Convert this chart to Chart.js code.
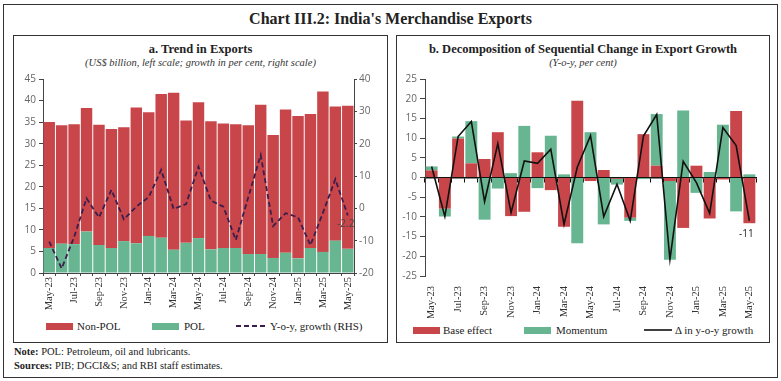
<!DOCTYPE html>
<html><head><meta charset="utf-8">
<script src="https://cdn.jsdelivr.net/npm/chart.js@4"></script>
<style>
body{margin:0;background:#fff;}
#wrap{position:relative;width:781px;height:381px;overflow:hidden;background:#fff;font-family:'Liberation Serif',serif;color:#222;}
.abs{position:absolute;}
.frame{left:3px;top:4px;width:773px;height:372px;border:1.5px solid #333;}
.panel{top:35px;height:306px;border:1px solid #333;}
.title{left:0;width:781px;top:9px;text-align:center;font-weight:bold;font-size:16px;line-height:20px;}
.ptitle{text-align:center;font-weight:bold;font-size:12.5px;line-height:14px;}
.psub{text-align:center;font-style:italic;font-size:10.5px;line-height:12px;color:#333;}
.lg{font-size:11px;line-height:12px;white-space:nowrap;color:#222;}
.box{height:7px;width:27px;}
.note{left:14px;font-size:10.5px;line-height:12px;color:#222;}
canvas{position:absolute;}
</style>
</head><body>
<div id="wrap">
<div class="abs frame"></div>
<div class="abs title">Chart III.2: India's Merchandise Exports</div>
<div class="abs panel" style="left:13px;width:373px;"></div>
<div class="abs panel" style="left:396px;width:372px;"></div>
<div class="abs ptitle" style="left:13px;width:375px;top:42px;">a. Trend in Exports</div>
<div class="abs psub" style="left:13px;width:375px;top:57px;">(US$ billion, left scale; growth in per cent, right scale)</div>
<div class="abs ptitle" style="left:396px;width:374px;top:42px;">b. Decomposition of Sequential Change in Export Growth</div>
<div class="abs psub" style="left:396px;width:374px;top:57px;">(Y-o-y, per cent)</div>

<canvas id="ca" width="372" height="248" style="left:14px;top:70px;"></canvas>
<canvas id="cb" width="371" height="248" style="left:397px;top:70px;"></canvas>

<div class="abs box" style="left:46px;top:323px;background:#C8464A;"></div>
<div class="abs lg" style="left:77px;top:320px;">Non-POL</div>
<div class="abs box" style="left:152px;top:323px;background:#67B591;"></div>
<div class="abs lg" style="left:184px;top:320px;">POL</div>
<svg class="abs" style="left:236px;top:322px;" width="32" height="8"><line x1="0" y1="4" x2="32" y2="4" stroke="#3b1d4d" stroke-width="2" stroke-dasharray="5,3"/></svg>
<div class="abs lg" style="left:270px;top:320px;">Y-o-y, growth (RHS)</div>

<div class="abs box" style="left:413px;top:327px;background:#C8464A;"></div>
<div class="abs lg" style="left:443px;top:324px;">Base effect</div>
<div class="abs box" style="left:524px;top:327px;background:#67B591;"></div>
<div class="abs lg" style="left:556px;top:324px;">Momentum</div>
<svg class="abs" style="left:644px;top:326px;" width="28" height="8"><line x1="0" y1="4" x2="28" y2="4" stroke="#111" stroke-width="1.6"/></svg>
<div class="abs lg" style="left:675px;top:324px;">Δ in y-o-y growth</div>

<div class="abs note" style="top:346px;"><b>Note:</b> POL: Petroleum, oil and lubricants.</div>
<div class="abs note" style="top:360px;"><b>Sources:</b> PIB; DGCI&amp;S; and RBI staff estimates.</div>
</div>
<script>
const months = ['May-23','Jun-23','Jul-23','Aug-23','Sep-23','Oct-23','Nov-23','Dec-23','Jan-24','Feb-24','Mar-24','Apr-24','May-24','Jun-24','Jul-24','Aug-24','Sep-24','Oct-24','Nov-24','Dec-24','Jan-25','Feb-25','Mar-25','Apr-25','May-25'];
const pol    = [5.8,6.8,6.7,9.6,6.5,5.8,7.4,6.9,8.6,8.2,5.4,7.0,8.1,5.5,5.8,5.8,4.4,4.4,3.5,4.7,3.4,5.8,4.9,7.5,5.6];
const nonPol = [29.2,27.5,27.8,28.7,27.9,27.6,26.4,31.5,28.7,33.3,36.4,28.4,31.5,29.7,28.9,28.7,29.9,34.6,28.5,33.2,33.0,31.1,37.2,31.1,33.2];
const growth = [-10.3,-18.6,-8.9,3.1,-2.8,5.7,-3.4,0.5,3.5,11.9,-0.2,1.3,12.9,2.4,0.5,-9.8,3.4,16.5,-5.5,-1.5,-2.8,-11.4,-1.4,9.0,-2.2];
const baseEffect = [1.8,-7.9,9.9,3.6,4.7,11.5,-9.8,-8.7,6.4,-3.2,-12.5,19.5,-0.9,1.9,-0.3,-10.2,11.0,3.0,-0.9,-12.8,3.0,-10.4,-0.5,16.9,-11.6];
const momentum   = [1.0,-2.0,0.5,10.7,-10.7,-2.8,1.1,13.1,-2.7,10.6,0.8,-16.7,11.5,-11.9,-1.5,-0.8,-0.4,13.1,-20.0,17.0,-3.9,1.4,13.4,-8.6,0.8];
const change     = [2.8,-9.9,10.4,14.2,-6.1,8.6,-8.9,4.2,3.6,7.2,-11.9,2.6,10.6,-9.9,-1.7,-11.0,10.5,16.0,-20.8,4.1,-1.3,-9.1,12.7,8.1,-11.0];
const leftTicks = {min:0,max:45,step:5};
const rightTicks = {min:-20,max:40,step:10};
const decompTicks = {min:-25,max:25,step:5};

const RED='#C8464A', GREEN='#67B591';
const tickFont = {family:'Open Sans', size:10};
const xFont = {family:'Liberation Serif', size:10.5};

const endLabel = {
  id:'endLabel',
  afterDatasetsDraw(chart, args, opts){
    const meta = chart.getDatasetMeta(opts.ds);
    const pts = meta.data; const p = pts[pts.length-1];
    const ctx = chart.ctx; ctx.save();
    ctx.font = '10px "Open Sans"'; ctx.fillStyle = opts.color; ctx.textAlign='center'; ctx.textBaseline='middle';
    ctx.fillText(opts.text, p.x + opts.dx, p.y + opts.dy);
    ctx.restore();
  }
};

new Chart(document.getElementById('ca'), {
  type:'bar',
  data:{labels:months, datasets:[
    {type:'line', label:'Y-o-y, growth (RHS)', data:growth, yAxisID:'y1', borderColor:'#3b1d4d', borderWidth:1.8, borderDash:[5,3], pointRadius:0, fill:false, tension:0, order:0},
    {label:'POL', data:pol, backgroundColor:GREEN, yAxisID:'y', order:1, barPercentage:0.92, categoryPercentage:1},
    {label:'Non-POL', data:nonPol, backgroundColor:RED, yAxisID:'y', order:1, barPercentage:0.92, categoryPercentage:1}
  ]},
  options:{
    responsive:false, animation:false, devicePixelRatio:1,
    layout:{padding:{top:9,left:0,right:0,bottom:0}},
    plugins:{legend:{display:false}, tooltip:{enabled:false},
      endLabel:{ds:0, text:growth[growth.length-1].toFixed(1), dx:-2, dy:9, color:'#444'}},
    scales:{
      x:{stacked:true, offset:true, grid:{offset:true, drawOnChartArea:false, color:'#444', tickLength:3}, border:{color:'#444'},
         ticks:{autoSkip:false, maxRotation:90, minRotation:90, padding:1, font:xFont, color:'#333', callback:(v,i)=> i%2===0 ? months[i] : ''},
         afterFit:s=>{s.height=45;}},
      y:{stacked:true, position:'left', min:leftTicks.min, max:leftTicks.max, ticks:{stepSize:leftTicks.step, font:tickFont, color:'#666', padding:3},
         grid:{drawOnChartArea:false, color:'#444', tickLength:4}, border:{color:'#444'}, afterFit:s=>{s.width=29;}},
      y1:{position:'right', min:rightTicks.min, max:rightTicks.max, ticks:{stepSize:rightTicks.step, font:tickFont, color:'#666', padding:2},
         grid:{drawOnChartArea:false, color:'#444', tickLength:3}, border:{color:'#444'}, afterFit:s=>{s.width=32;}}
    }
  },
  plugins:[endLabel]
});

new Chart(document.getElementById('cb'), {
  type:'bar',
  data:{labels:months, datasets:[
    {type:'line', label:'Δ in y-o-y growth', data:change, borderColor:'#111', borderWidth:1.6, pointRadius:0, fill:false, tension:0, order:0},
    {label:'Base effect', data:baseEffect, backgroundColor:RED, order:1, barPercentage:0.9, categoryPercentage:1},
    {label:'Momentum', data:momentum, backgroundColor:GREEN, order:1, barPercentage:0.9, categoryPercentage:1}
  ]},
  options:{
    responsive:false, animation:false, devicePixelRatio:1,
    layout:{padding:{top:8,left:0,right:12,bottom:0}},
    plugins:{legend:{display:false}, tooltip:{enabled:false},
      endLabel:{ds:0, text:String(Math.round(change[change.length-1])), dx:-3, dy:13, color:'#222'}},
    scales:{
      x:{stacked:true, offset:true, grid:{display:false}, border:{display:false},
         ticks:{autoSkip:false, maxRotation:90, minRotation:90, padding:2, font:xFont, color:'#333', callback:(v,i)=> i%2===0 ? months[i] : ''},
         afterFit:s=>{s.height=42;}},
      x2:{type:'category', position:{y:0}, offset:true, z:1, grid:{offset:true, drawOnChartArea:false, color:'#111', tickLength:4},
          border:{color:'#111', width:1.5}, ticks:{display:false}},
      y:{stacked:true, position:'left', min:decompTicks.min, max:decompTicks.max, ticks:{stepSize:decompTicks.step, font:tickFont, color:'#666', padding:3},
         grid:{drawOnChartArea:false, color:'#444', tickLength:5}, border:{color:'#444'}, afterFit:s=>{s.width=28;}}
    }
  },
  plugins:[endLabel]
});
</script>
</body></html>
